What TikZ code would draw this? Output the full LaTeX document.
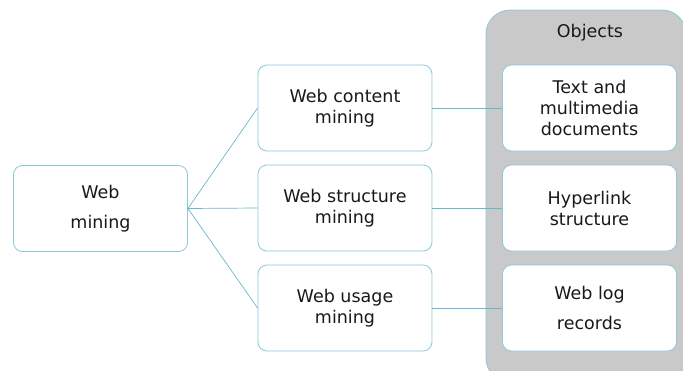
\documentclass[tikz,border=0pt]{standalone}
\usepackage{fontspec}
\setmainfont{DejaVu Sans}
\usepackage{tikz}

\definecolor{boxline}{HTML}{8CC8D9}
\definecolor{linkline}{HTML}{4BACC6}
\definecolor{panel}{HTML}{C9C9C9}

\tikzset{
	itembox/.style={draw=boxline, line width=0.8pt, fill=white, rounded corners=9pt,
		minimum width=174pt, minimum height=86pt, align=center,
		font=\fontsize{17.5}{21}\selectfont, text=black!90},
	link/.style={draw=linkline!85, line width=0.7pt}
}

\begin{document}
\begin{tikzpicture}[x=1pt, y=-1pt]
	%\draw[help lines] (0,0) grid[step=50pt] (683,370);
	\useasboundingbox (0,0) rectangle (683,370);
	\begin{scope}
		\clip (0,0) rectangle (683,370);
		\draw[fill=panel, draw=boxline, line width=0.8pt, rounded corners=24pt] (486,10) -- (686,10) -- (686,382) -- (486,382) -- cycle;
	\end{scope}
	\node[font=\fontsize{17.5}{21}\selectfont, text=black!90] (objects) at (590,33) {Objects};

	\node[itembox, font=\fontsize{17.5}{30}\selectfont] (web) at (100.5,208.5) {Web\\mining};

	\node[itembox] (content) at (345,108) {Web content\\mining};
	\node[itembox] (structure) at (345,208) {Web structure\\mining};
	\node[itembox] (usage) at (345,308) {Web usage\\mining};

	\node[itembox] (docs) at (589.5,108) {Text and\\multimedia\\documents};
	\node[itembox] (hyper) at (589.5,208) {Hyperlink\\structure};
	\node[itembox, font=\fontsize{17.5}{30}\selectfont] (logs) at (589.5,308) {Web log\\records};

	\draw[link] (web.east) -- (content.west);
	\draw[link] (web.east) -- (structure.west);
	\draw[link] (web.east) -- (usage.west);
	\draw[link] (content.east) -- (docs.west);
	\draw[link] (structure.east) -- (hyper.west);
	\draw[link] (usage.east) -- (logs.west);
\end{tikzpicture}
\end{document}
